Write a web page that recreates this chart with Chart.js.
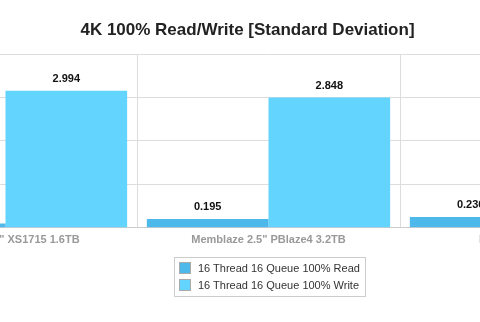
<!DOCTYPE html>
<html>
<head>
<meta charset="utf-8">
<script src="https://cdn.jsdelivr.net/npm/chart.js@4.4.1/dist/chart.umd.min.js"></script>
<style>
  html, body { margin: 0; padding: 0; background: #fff; }
  #wrap { position: relative; width: 480px; height: 322px; overflow: hidden; font-family: "Liberation Sans", Arial, sans-serif; }
  #title { position: absolute; left: 0; top: 20px; width: 495px; text-align: center; font-weight: bold; font-size: 17px; color: #222; }
  #legend { position: absolute; left: 174px; top: 257px; border: 1px solid #ccc; padding: 2px 5px 2px 4px; font-size: 11px; color: #333; }
  #legend div { height: 17px; line-height: 17px; white-space: nowrap; }
  #legend span { display: inline-block; width: 12px; height: 12px; vertical-align: -2px; margin-right: 7px; border: 1px solid #aaa; box-sizing: border-box; }
</style>
</head>
<body>
<div id="wrap">
  <canvas id="myChart" width="820" height="322" style="position:absolute;left:-140px;top:0;"></canvas>
  <div id="title">4K 100% Read/Write [Standard Deviation]</div>
  <div id="legend"></div>
</div>
<script>
// drives, as they sit left to right (only the middle one is fully in view)
const drives = ['Samsung 2.5" XS1715 1.6TB', 'Memblaze 2.5" PBlaze4 3.2TB', 'Intel 2.5" P3700 2TB'];
const readValues = [0.093, 0.195, 0.236];
const writeValues = [2.994, 2.848, 0.31];
const seriesNames = ['16 Thread 16 Queue 100% Read', '16 Thread 16 Queue 100% Write'];
const yTicks = [0, 0.95, 1.9, 2.85, 3.8];

const readColor = '#4db8ea';
const writeColor = '#62d4fe';

// numbers above each bar
const valueLabels = {
  id: 'valueLabels',
  afterDatasetsDraw(chart) {
    const ctx = chart.ctx;
    ctx.save();
    ctx.font = 'bold 11px "Liberation Sans", Arial, sans-serif';
    ctx.fillStyle = '#111';
    ctx.textAlign = 'center';
    ctx.textBaseline = 'middle';
    chart.data.datasets.forEach(function(ds, i) {
      chart.getDatasetMeta(i).data.forEach(function(bar, j) {
        ctx.fillText(ds.data[j].toFixed(3), bar.x, bar.y - 12);
      });
    });
    ctx.restore();
  }
};

function buildLegend(chart) {
  var box = document.getElementById('legend');
  chart.data.datasets.forEach(function(ds) {
    var row = document.createElement('div');
    var sw = document.createElement('span');
    sw.style.backgroundColor = ds.backgroundColor;
    row.appendChild(sw);
    row.appendChild(document.createTextNode(ds.label));
    box.appendChild(row);
  });
}

function chartOnLoad() {
  const ctx = document.getElementById('myChart');
  const chart = new Chart(ctx, {
    type: 'bar',
    data: {
      labels: drives,
      datasets: [
        { label: seriesNames[0], data: readValues, backgroundColor: readColor },
        { label: seriesNames[1], data: writeValues, backgroundColor: writeColor }
      ]
    },
    plugins: [valueLabels],
    options: {
      responsive: false,
      animation: false,
      devicePixelRatio: 1,
      layout: { padding: { left: 14, right: 17, top: 54, bottom: 69 } },
      datasets: { bar: { categoryPercentage: 0.925, barPercentage: 1.0 } },
      plugins: {
        legend: { display: false },
        title: { display: false },
        tooltip: { enabled: false }
      },
      scales: {
        x: {
          grid: { color: '#dddddd', offset: true, drawTicks: false },
          border: { color: '#cccccc' },
          ticks: {
            color: '#999999',
            padding: 6,
            maxRotation: 0,
            autoSkip: false,
            font: { family: '"Liberation Sans", Arial, sans-serif', size: 11, weight: 'bold' }
          }
        },
        y: {
          min: yTicks[0],
          max: yTicks[yTicks.length - 1],
          afterBuildTicks: function(axis) {
            axis.ticks = yTicks.map(function(v) { return { value: v }; });
          },
          grid: { color: '#dddddd', drawTicks: false },
          border: { display: false },
          ticks: { display: false }
        }
      }
    }
  });
  buildLegend(chart);
}

chartOnLoad();
</script>
</body>
</html>
